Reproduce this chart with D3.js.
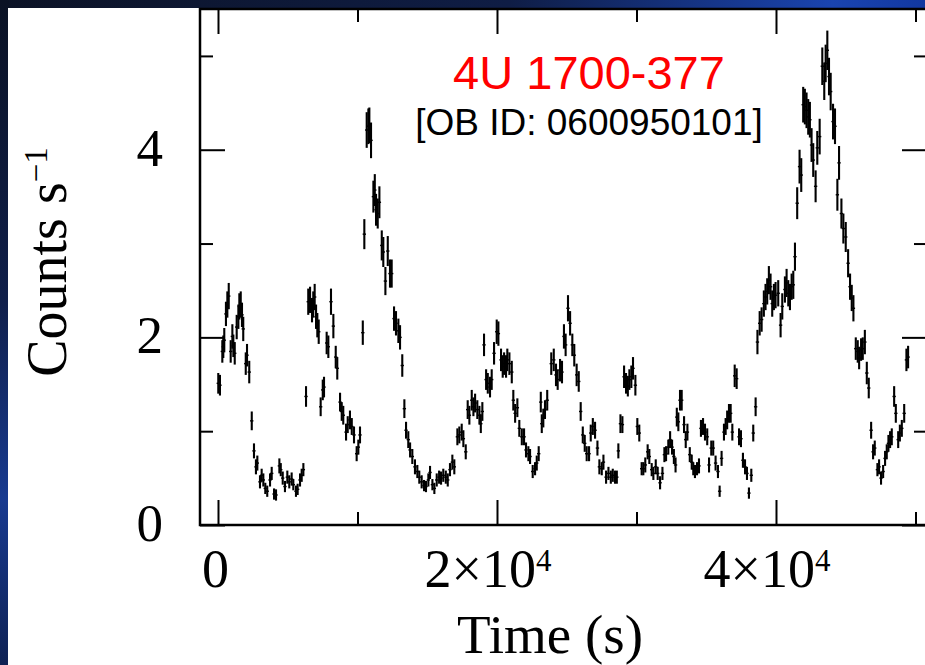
<!DOCTYPE html>
<html>
<head>
<meta charset="utf-8">
<script src="https://cdn.jsdelivr.net/npm/d3@7"></script>
<style>
  html, body { margin: 0; padding: 0; background: #0e1a3a; }
  svg { display: block; }
</style>
</head>
<body>
<svg id="chart" width="925" height="665"></svg>
<script>
// ---------------- DATA ----------------
const titleMain = "4U 1700-377";
const titleSub = "[OB ID: 0600950101]";
const xLabel = "Time (s)";
const yLabelBase = "Counts s";
const yLabelSup = "\u22121";

const xMajorTicks = [0, 20000, 40000];
const xMinorTicks = [10000, 30000, 50000];
const xTickLabels = [["0", ""], ["2\u00d710", "4"], ["4\u00d710", "4"]];
const yMajorTicks = [0, 2, 4];
const yMinorTicks = [1, 3, 5];
const yTickLabels = ["0", "2", "4"];

const binHalfWidth = 120; // seconds

const times = [
  20,140,310,380,450,570,670,770,910,1030,1100,1200,1340,1460,1530,1630,1720,1810,1990,2080,
  2240,2420,2580,2720,2820,3010,3130,3250,3390,3530,3730,3850,4020,4160,4400,4500,4640,4800,4970,5110,
  5280,5400,5590,5710,5880,6000,6120,
  6310,6470,6600,6740,6830,6930,7030,7120,7220,7360,7510,7600,7790,7910,8100,8270,8440,8550,8750,8870,
  8980,9180,9300,9460,9590,9750,9940,10060,10180,10380,10490,10660,10780,10850,10970,11140,11240,11330,11450,11570,
  11740,11850,12000,12170,12330,12450,12620,12760,12930,13050,13210,13360,13480,13640,13770,13930,14120,14290,14430,14600,
  14770,14910,15080,15200,15370,15510,15680,15850,15990,16150,16330,16470,16630,16800,16940,17160,17300,17470,17590,17760,
  17900,18020,18190,18310,18430,18590,18740,18840,18950,19070,19220,19340,19500,19620,19790,19980,20100,20290,20410,20510,
  20650,20740,20890,21060,21170,21300,21460,21600,21780,21940,22080,22250,22370,22560,22730,22850,22990,23140,23210,23320,
  23440,23600,23890,24070,24230,24350,24520,24660,24800,24920,25090,25240,25400,25540,25710,25860,26000,26150,26290,26430,
  26600,26720,26870,27030,27200,27340,27510,27630,27820,27990,28160,28300,28460,28590,28700,28850,28990,29110,29250,29380,
  29490,29630,29750,29920,30060,30200,30370,30490,30630,30800,30920,31090,31210,31380,31520,31690,31860,32000,32120,32280,
  32410,32550,32680,32800,32890,33000,33120,33240,33410,33530,33650,33820,33960,34070,34190,34340,34480,34620,34770,34910,
  35070,35200,35360,35500,35670,35840,35960,36100,36270,36390,36500,36630,36750,36870,37040,37180,37350,37490,37630,37780,
  37920,38060,38230,38370,38540,38670,38830,38970,39130,39250,39370,39490,39610,39730,39850,39970,40160,40330,40450,40640,
  40760,40880,41000,41120,41240,41360,41520,41690,41810,41950,42070,42190,42310,42430,42550,42670,42840,42960,43130,43320,
  43460,43560,43680,43800,43920,44090,44230,44400,44520,44690,44830,45000,45170,45310,45430,45550,45720,45860,45960,46100,
  46220,46370,46510,46650,46820,46960,47080,47270,47390,47530,47680,47820,47940,48060,48180,48300,48470,48590,48760,48880,
  49020,49190,49350,49470
];

const rates = [
  1.51,1.49,1.85,1.90,1.97,2.25,2.35,2.44,1.85,2.01,1.91,1.83,2.11,2.22,2.33,2.35,2.24,2.09,1.72,1.81,
  1.63,1.11,0.79,0.62,0.66,0.46,0.53,0.48,0.39,0.36,0.48,0.55,0.33,0.32,0.63,0.59,0.50,0.41,0.51,0.46,
  0.49,0.43,0.36,0.38,0.48,0.53,0.59,
  1.37,2.38,2.40,2.29,2.35,2.43,2.22,2.13,2.06,1.26,1.44,1.47,1.94,1.90,2.38,2.12,1.79,1.67,1.31,1.21,
  1.17,0.99,1.07,1.12,1.05,0.96,0.76,0.83,0.96,2.05,3.10,4.21,4.25,4.26,4.10,3.50,3.57,3.36,3.32,3.44,
  2.98,2.91,2.60,2.92,2.68,2.68,2.20,2.15,2.07,2.00,1.70,1.24,1.01,0.91,0.80,0.73,0.62,0.57,0.51,0.46,
  0.42,0.41,0.48,0.56,0.43,0.39,0.48,0.51,0.50,0.53,0.51,0.48,0.59,0.67,0.62,0.94,0.96,0.99,0.92,0.78,
  1.23,1.17,1.33,1.26,1.30,1.23,1.17,1.08,1.21,1.92,1.55,1.51,1.47,1.55,1.83,2.06,2.04,1.76,1.69,1.72,
  1.69,1.76,1.72,1.63,1.33,1.19,1.25,1.03,0.94,0.94,0.80,0.76,0.73,0.57,0.60,0.66,0.76,1.31,1.08,1.14,
  1.23,1.33,1.72,1.76,1.60,1.55,1.65,1.63,2.01,1.92,2.31,2.15,1.92,1.81,1.60,1.53,1.21,0.96,0.87,0.76,
  0.76,0.98,1.05,1.01,0.82,0.62,0.60,0.67,0.51,0.55,0.51,0.53,0.51,0.51,0.79,1.08,1.07,1.58,1.51,1.48,
  1.55,1.58,1.67,1.49,1.05,0.98,0.60,0.60,0.64,0.78,0.73,0.59,0.55,0.62,0.55,0.45,0.55,0.75,0.76,0.83,
  0.91,0.83,0.73,0.64,1.15,1.10,1.33,1.33,1.07,0.91,0.99,0.75,0.67,0.60,0.57,0.60,0.63,1.03,1.05,0.99,
  0.94,0.64,0.82,0.82,0.66,0.57,0.36,0.71,0.99,1.05,1.12,1.19,1.19,0.99,1.59,1.56,0.94,0.92,0.69,0.62,
  0.55,0.34,0.53,0.98,1.26,1.95,2.15,2.19,2.36,2.43,2.49,2.61,2.54,2.36,2.43,2.45,2.47,2.13,2.33,2.51,
  2.58,2.47,2.43,2.54,2.56,2.86,3.43,3.82,3.73,4.48,4.46,4.42,4.35,4.32,4.05,3.89,3.61,4.02,4.14,4.89,
  4.73,4.92,5.06,4.78,4.62,4.30,4.25,3.52,3.86,3.32,3.16,3.07,2.79,2.54,2.42,2.31,1.88,1.85,1.78,1.87,
  1.88,1.95,1.62,1.46,1.01,0.78,0.82,0.59,0.62,0.50,0.57,0.71,0.78,0.87,0.91,0.94,1.37,1.19,0.91,0.98,
  1.03,1.19,1.76,1.79
];

const errors = [
  .11,.11,.12,.12,.13,.13,.14,.14,.12,.13,.12,.12,.13,.13,.14,.14,.13,.13,.12,.12,
  .12,.10,.08,.08,.08,.07,.07,.07,.06,.06,.07,.07,.06,.06,.08,.07,.07,.06,.07,.07,
  .07,.06,.06,.06,.07,.07,.07,
  .11,.14,.14,.13,.14,.14,.13,.13,.13,.10,.11,.11,.12,.12,.14,.13,.12,.12,.10,.10,
  .10,.09,.09,.10,.09,.09,.08,.08,.09,.13,.16,.19,.19,.19,.19,.17,.17,.17,.16,.17,
  .16,.16,.15,.16,.15,.15,.13,.13,.13,.13,.12,.10,.09,.09,.08,.08,.08,.07,.07,.07,
  .06,.06,.07,.07,.06,.06,.07,.07,.07,.07,.07,.07,.07,.08,.08,.09,.09,.09,.09,.08,
  .10,.10,.11,.10,.10,.10,.10,.10,.10,.12,.11,.11,.11,.11,.12,.13,.13,.12,.12,.12,
  .12,.12,.12,.12,.11,.10,.10,.09,.09,.09,.08,.08,.08,.07,.07,.08,.08,.11,.10,.10,
  .10,.11,.12,.12,.12,.11,.12,.12,.13,.12,.14,.13,.12,.12,.12,.11,.10,.09,.09,.08,
  .08,.09,.09,.09,.08,.08,.07,.08,.07,.07,.07,.07,.07,.07,.08,.10,.09,.12,.11,.11,
  .11,.12,.12,.11,.09,.09,.07,.07,.08,.08,.08,.07,.07,.08,.07,.07,.07,.08,.08,.08,
  .09,.08,.08,.08,.10,.10,.11,.11,.09,.09,.09,.08,.08,.07,.07,.07,.08,.09,.09,.09,
  .09,.08,.08,.08,.08,.07,.06,.08,.09,.09,.10,.10,.10,.09,.12,.11,.09,.09,.08,.08,
  .07,.06,.07,.09,.10,.13,.13,.13,.14,.14,.14,.15,.14,.14,.14,.14,.14,.13,.14,.14,
  .15,.14,.14,.14,.15,.15,.17,.18,.18,.19,.19,.19,.19,.19,.18,.18,.17,.18,.19,.20,
  .20,.20,.21,.20,.20,.19,.19,.17,.18,.16,.16,.16,.15,.14,.14,.14,.12,.12,.12,.12,
  .12,.13,.12,.11,.09,.08,.08,.07,.08,.07,.07,.08,.08,.09,.09,.09,.11,.10,.09,.09,
  .09,.10,.12,.12
];

// ---------------- DRAW ----------------
const svg = d3.select("#chart");
const W = 925, H = 665;

const defs = svg.append("defs");
const gTop = defs.append("linearGradient").attr("id", "gTop").attr("x1", 0).attr("x2", 1).attr("y1", 0).attr("y2", 0);
gTop.append("stop").attr("offset", "0%").attr("stop-color", "#0c1326");
gTop.append("stop").attr("offset", "55%").attr("stop-color", "#0f1d45");
gTop.append("stop").attr("offset", "90%").attr("stop-color", "#1a44b0");
gTop.append("stop").attr("offset", "100%").attr("stop-color", "#1238a0");
const gLeft = defs.append("linearGradient").attr("id", "gLeft").attr("x1", 0).attr("x2", 0).attr("y1", 0).attr("y2", 1);
gLeft.append("stop").attr("offset", "0%").attr("stop-color", "#0b1224");
gLeft.append("stop").attr("offset", "45%").attr("stop-color", "#101f4a");
gLeft.append("stop").attr("offset", "75%").attr("stop-color", "#183a90");
gLeft.append("stop").attr("offset", "100%").attr("stop-color", "#0f2254");

svg.append("rect").attr("x", 0).attr("y", 0).attr("width", W).attr("height", H).attr("fill", "#0e1a3a");
svg.append("rect").attr("x", 0).attr("y", 0).attr("width", W).attr("height", 9).attr("fill", "url(#gTop)");
svg.append("rect").attr("x", 0).attr("y", 0).attr("width", 9).attr("height", H).attr("fill", "url(#gLeft)");
// white panel
svg.append("rect").attr("x", 8).attr("y", 8).attr("width", W - 8).attr("height", H - 8).attr("fill", "#ffffff");

const x = d3.scaleLinear().domain([-1290, 50825]).range([200, 927]);
const y = d3.scaleLinear().domain([0, 5.5]).range([525, 9]);

// data error bars
const pts = times.map((t, i) => ({ t: t, c: rates[i], e: errors[i] }));
const gData = svg.append("g").attr("stroke", "#000").attr("fill", "none");
gData.selectAll("line.v").data(pts).join("line").attr("class", "v")
  .attr("x1", d => x(d.t)).attr("x2", d => x(d.t))
  .attr("y1", d => y(d.c - d.e)).attr("y2", d => y(d.c + d.e))
  .attr("stroke-width", 2.1);
gData.selectAll("line.h").data(pts).join("line").attr("class", "h")
  .attr("x1", d => x(d.t - binHalfWidth)).attr("x2", d => x(d.t + binHalfWidth))
  .attr("y1", d => y(d.c)).attr("y2", d => y(d.c))
  .attr("stroke-width", 1.4);

// axes ticks (inward)
function styleAxis(g) {
  g.select(".domain").remove();
  g.selectAll(".tick line").attr("stroke", "#000").attr("stroke-width", 2);
  g.selectAll(".tick text").remove();
}
const major = 25, minor = 13;
svg.append("g").attr("transform", "translate(0,525)")
  .call(d3.axisBottom(x).tickValues(xMajorTicks).tickSize(-major).tickFormat("")).call(styleAxis);
svg.append("g").attr("transform", "translate(0,525)")
  .call(d3.axisBottom(x).tickValues(xMinorTicks).tickSize(-minor).tickFormat("")).call(styleAxis);
svg.append("g").attr("transform", "translate(0,9)")
  .call(d3.axisTop(x).tickValues(xMajorTicks).tickSize(-major).tickFormat("")).call(styleAxis);
svg.append("g").attr("transform", "translate(0,9)")
  .call(d3.axisTop(x).tickValues(xMinorTicks).tickSize(-minor).tickFormat("")).call(styleAxis);
svg.append("g").attr("transform", "translate(200,0)")
  .call(d3.axisLeft(y).tickValues(yMajorTicks).tickSize(-major).tickFormat("")).call(styleAxis);
svg.append("g").attr("transform", "translate(200,0)")
  .call(d3.axisLeft(y).tickValues(yMinorTicks).tickSize(-minor).tickFormat("")).call(styleAxis);
svg.append("g").attr("transform", "translate(927,0)")
  .call(d3.axisRight(y).tickValues(yMajorTicks).tickSize(-major).tickFormat("")).call(styleAxis);
svg.append("g").attr("transform", "translate(927,0)")
  .call(d3.axisRight(y).tickValues(yMinorTicks).tickSize(-minor).tickFormat("")).call(styleAxis);

// frame
svg.append("rect").attr("x", 200).attr("y", 9).attr("width", 727).attr("height", 516)
  .attr("fill", "none").attr("stroke", "#000").attr("stroke-width", 2.5);

// tick labels
const serif = "'Liberation Serif', 'Times New Roman', Times, serif";
yMajorTicks.forEach((v, i) => {
  svg.append("text").attr("x", 163).attr("y", y(v) + 16)
    .attr("text-anchor", "end").attr("font-family", serif).attr("font-size", 53)
    .attr("fill", "#000").text(yTickLabels[i]);
});
xMajorTicks.forEach((v, i) => {
  const lab = xTickLabels[i];
  const t = svg.append("text").attr("x", x(v) - (lab[1] ? 9 : 2.5)).attr("y", 587)
    .attr("text-anchor", "middle").attr("font-family", serif).attr("font-size", 54).attr("fill", "#000");
  t.append("tspan").text(lab[0]);
  if (lab[1]) t.append("tspan").attr("dy", -16).attr("font-size", 31).text(lab[1]);
});

// axis titles
svg.append("text").attr("x", 550).attr("y", 653).attr("text-anchor", "middle")
  .attr("font-family", serif).attr("font-size", 55).attr("fill", "#000").text(xLabel);
const yt = svg.append("text").attr("transform", "translate(66,262) rotate(-90)")
  .attr("text-anchor", "middle").attr("font-family", serif).attr("font-size", 56).attr("fill", "#000");
yt.append("tspan").text(yLabelBase);
yt.append("tspan").attr("dy", -19).attr("font-size", 33).text(yLabelSup);

// title
const sans = "'Liberation Sans', Arial, Helvetica, sans-serif";
svg.append("text").attr("x", 589).attr("y", 89).attr("text-anchor", "middle")
  .attr("font-family", sans).attr("font-size", 47).attr("fill", "#ff0000").text(titleMain);
svg.append("text").attr("x", 589).attr("y", 135).attr("text-anchor", "middle")
  .attr("font-family", sans).attr("font-size", 37).attr("fill", "#000").text(titleSub);
</script>
</body>
</html>
